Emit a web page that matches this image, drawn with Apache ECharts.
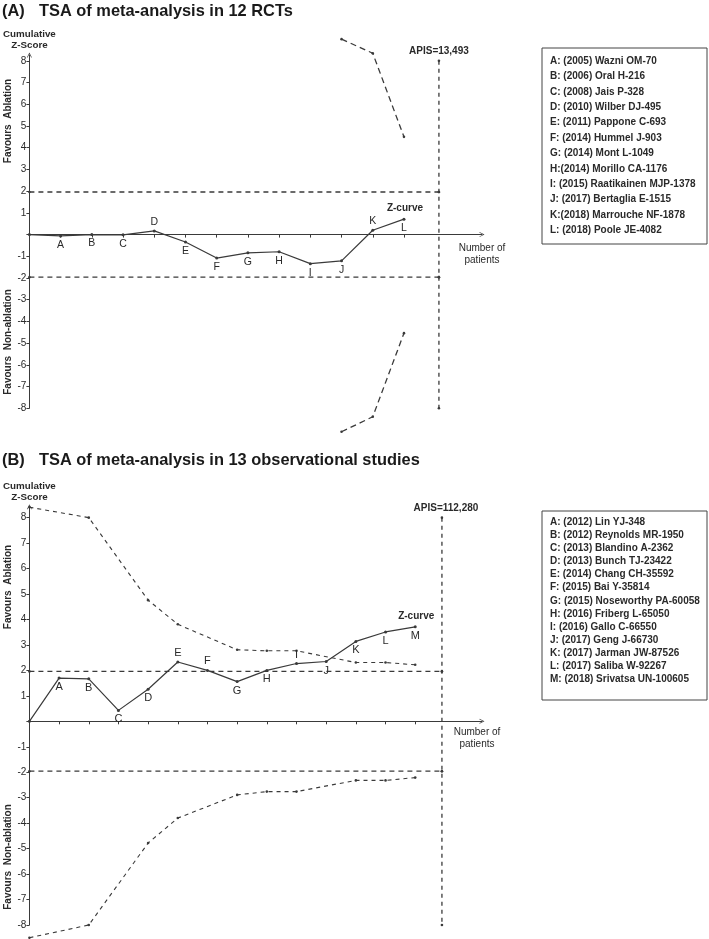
<!DOCTYPE html>
<html>
<head>
<meta charset="utf-8">
<script src="https://cdn.jsdelivr.net/npm/echarts@6/dist/echarts.min.js"></script>
<style>html,body{margin:0;padding:0;background:#fff}#c{width:709px;height:939px}</style>
</head>
<body>
<div id="c"></div>
<script>
// ---------- DATA ----------
// Panel A: 12 RCTs
const lettersA = ['', 'A', 'B', 'C', 'D', 'E', 'F', 'G', 'H', 'I', 'J', 'K', 'L'];
const zCurveA = [0, -0.06, 0, -0.01, 0.17, -0.34, -1.08, -0.84, -0.79, -1.34, -1.21, 0.2, 0.71];
const boundaryXA = [10, 11, 12];
const upperBoundaryA = [9.0, 8.35, 4.5];
const lowerBoundaryA = [-9.08, -8.39, -4.54];
const apisXA = 13.12;
const apisLabelA = 'APIS=13,493';
const legendA = [
  'A: (2005) Wazni OM-70', 'B: (2006) Oral H-216', 'C: (2008) Jais P-328',
  'D: (2010) Wilber DJ-495', 'E: (2011) Pappone C-693', 'F: (2014) Hummel J-903',
  'G: (2014) Mont L-1049', 'H:(2014) Morillo CA-1176', 'I: (2015) Raatikainen MJP-1378',
  'J: (2017) Bertaglia E-1515', 'K:(2018) Marrouche NF-1878', 'L: (2018) Poole JE-4082'
];
// Panel B: 13 observational studies
const lettersB = ['', 'A', 'B', 'C', 'D', 'E', 'F', 'G', 'H', 'I', 'J', 'K', 'L', 'M'];
const zCurveB = [0, 1.70, 1.67, 0.43, 1.26, 2.33, 2.0, 1.56, 2.0, 2.27, 2.35, 3.14, 3.51, 3.71];
const boundaryXB = [0, 2, 4, 5, 7, 8, 9, 11, 12, 13];
const upperBoundaryB = [8.41, 8.0, 4.76, 3.81, 2.81, 2.77, 2.77, 2.31, 2.31, 2.22];
const lowerBoundaryB = [-8.5, -8.0, -4.78, -3.8, -2.89, -2.76, -2.76, -2.32, -2.32, -2.21];
const apisXB = 13.9;
const apisLabelB = 'APIS=112,280';
const legendB = [
  'A: (2012) Lin YJ-348', 'B: (2012) Reynolds MR-1950', 'C: (2013) Blandino A-2362',
  'D: (2013) Bunch TJ-23422', 'E: (2014) Chang CH-35592', 'F: (2015) Bai Y-35814',
  'G: (2015) Noseworthy PA-60058', 'H: (2016) Friberg L-65050', 'I: (2016) Gallo C-66550',
  'J: (2017) Geng J-66730', 'K: (2017) Jarman JW-87526', 'L: (2017) Saliba W-92267',
  'M: (2018) Srivatsa UN-100605'
];
const yTickValues = [-8, -7, -6, -5, -4, -3, -2, -1, 0, 1, 2, 3, 4, 5, 6, 7, 8];
const yLabelValues = [-8, -7, -6, -5, -4, -3, -2, -1, 1, 2, 3, 4, 5, 6, 7, 8];
const boundZ = 1.96;

// label placement (style) for letters
const posA = ['bottom','bottom','bottom','bottom','top','bottom','bottom','bottom','bottom','bottom','bottom','top','bottom'];
const posB = ['bottom','bottom','bottom','bottom','bottom','top','top','bottom','bottom','top','bottom','bottom','bottom','bottom'];

// ---------- CHART ----------
const FONT = '"Liberation Sans", Arial, Helvetica, sans-serif';
const INK = '#2a2a2a';
const LINE = '#3a3a3a';
const chart = echarts.init(document.getElementById('c'), null, {renderer: 'canvas'});
const arrow = 'path://M0,10 L5,0 L10,10 L8.6,10 L5,2.8 L1.4,10 Z';

function makeAxes(gi, xmax, ymax) {
  const x = {
    type: 'value', gridIndex: gi, min: 0, max: xmax,
    splitLine: {show: false},
    axisLine: {onZero: true, lineStyle: {color: LINE, width: 1}, symbol: ['none', arrow], symbolSize: [6, 5]},
    axisTick: {show: true, length: 3, lineStyle: {color: LINE}, customValues: gi === 0 ? [1,2,3,4,5,6,7,8,9,10,11,12] : [1,2,3,4,5,6,7,8,9,10,11,12,13]},
    axisLabel: {show: false}
  };
  const y = {
    type: 'value', gridIndex: gi, min: -8, max: ymax,
    name: 'Cumulative\nZ-Score', nameLocation: 'end', nameGap: 4,
    nameTextStyle: {fontFamily: FONT, fontWeight: 'bold', fontSize: 9.8, color: INK, lineHeight: 11, align: 'center'},
    splitLine: {show: false},
    axisLine: {onZero: true, lineStyle: {color: LINE, width: 1}, symbol: ['none', arrow], symbolSize: [7, 5]},
    axisTick: {show: true, length: 3, lineStyle: {color: LINE}, customValues: yTickValues},
    axisLabel: {show: true, customValues: yLabelValues, fontFamily: FONT, fontSize: 10, color: INK, margin: 3}
  };
  return [x, y];
}
const [xA, yA] = makeAxes(0, 14.5, 8.27);
const [xB, yB] = makeAxes(1, 15.25, 8.43);

function zSeries(gi, vals, letters, pos, fs) {
  return {
    type: 'line', xAxisIndex: gi, yAxisIndex: gi, clip: false, z: 5,
    symbol: 'circle', symbolSize: 3, showSymbol: true,
    lineStyle: {color: LINE, width: 1.2}, itemStyle: {color: LINE},
    data: vals.map((v, i) => ({
      value: [i, v],
      label: {show: letters[i] !== '', formatter: letters[i], position: pos[i], distance: 2,
              fontFamily: FONT, fontSize: fs, color: INK}
    })),
    markPoint: {
      symbol: 'circle', symbolSize: 0,
      data: [{coord: [vals.length - 1, vals[vals.length - 1]]}],
      label: {show: true, formatter: 'Z-curve', position: 'top', distance: 6, offset: [1, 0],
              fontFamily: FONT, fontWeight: 'bold', fontSize: 10, color: INK}
    }
  };
}
function dashSeries(gi, xs, ys, dash, w) {
  return {
    type: 'line', xAxisIndex: gi, yAxisIndex: gi, clip: false,
    symbol: 'circle', symbolSize: 2.6,
    lineStyle: {color: LINE, width: w, type: dash}, itemStyle: {color: LINE},
    data: xs.map((x, i) => [x, ys[i]])
  };
}
function apisSeries(gi, ax, label, dx) {
  return {
    type: 'line', xAxisIndex: gi, yAxisIndex: gi, clip: false,
    symbol: 'circle', symbolSize: 2.6,
    lineStyle: {color: LINE, width: 1.3, type: [4, 4]}, itemStyle: {color: LINE},
    data: [
      {value: [ax, 8], label: {show: true, formatter: label, position: 'top', distance: 3, offset: [dx, 0],
        fontFamily: FONT, fontWeight: 'bold', fontSize: 10, color: INK}},
      [ax, boundZ], [ax, -boundZ], [ax, -8]
    ]
  };
}

const series = [
  dashSeries(0, [0, apisXA], [boundZ, boundZ], [5, 4], 1.3),
  dashSeries(0, [0, apisXA], [-boundZ, -boundZ], [5, 4], 1.3),
  apisSeries(0, apisXA, apisLabelA, 0),
  dashSeries(0, boundaryXA, upperBoundaryA, [6, 4], 1.3),
  dashSeries(0, boundaryXA, lowerBoundaryA, [6, 4], 1.3),
  zSeries(0, zCurveA, lettersA, posA, 10.5),
  dashSeries(1, [0, apisXB], [boundZ, boundZ], [5, 4], 1.2),
  dashSeries(1, [0, apisXB], [-boundZ, -boundZ], [5, 4], 1.2),
  apisSeries(1, apisXB, apisLabelB, 4),
  dashSeries(1, boundaryXB, upperBoundaryB, [4, 4], 1.1),
  dashSeries(1, boundaryXB, lowerBoundaryB, [4, 4], 1.1),
  zSeries(1, zCurveB, lettersB, posB, 11)
];

function legendBox(x, y, w, h, lines, y0, step) {
  const children = [{type: 'rect', shape: {x: x, y: y, width: w, height: h},
    style: {fill: '#fff', stroke: '#444', lineWidth: 1}}];
  lines.forEach((t, i) => children.push({
    type: 'text', x: x + 8, y: y0 + i * step,
    style: {text: t, font: 'bold 10px ' + FONT, fill: INK, textVerticalAlign: 'middle'}
  }));
  return {type: 'group', children: children};
}
function vtext(x, y, t) {
  return {type: 'text', x: x, y: y, rotation: Math.PI / 2,
    style: {text: t, font: 'bold 10px ' + FONT, fill: INK, textAlign: 'center', textVerticalAlign: 'middle'}};
}
function ptext(x, y, t) {
  return {type: 'text', x: x, y: y,
    style: {text: t, font: '10px ' + FONT, fill: INK, textAlign: 'center', textVerticalAlign: 'middle', lineHeight: 12}};
}

const titleStyle = {fontFamily: FONT, fontWeight: 'bold', fontSize: 16.4, color: '#1a1a1a'};
chart.setOption({
  animation: false,
  backgroundColor: '#fff',
  title: [
    {text: '(A)', left: 2, top: 3, padding: 0, textStyle: titleStyle},
    {text: 'TSA of meta-analysis in 12 RCTs', left: 39, top: 3, padding: 0, textStyle: titleStyle},
    {text: '(B)', left: 2, top: 452, padding: 0, textStyle: titleStyle},
    {text: 'TSA of meta-analysis in 13 observational studies', left: 39, top: 452, padding: 0, textStyle: titleStyle}
  ],
  grid: [
    {left: 29, top: 55, width: 453, height: 353.3},
    {left: 29, top: 506.7, width: 453, height: 418.3}
  ],
  xAxis: [xA, xB],
  yAxis: [yA, yB],
  series: series,
  graphic: [
    legendBox(542, 48, 165, 196, legendA, 61, 15.4),
    legendBox(542, 511, 165, 189, legendB, 522, 13.13),
    vtext(8, 121, 'Favours  Ablation'),
    vtext(8, 342, 'Favours  Non-ablation'),
    vtext(8, 587, 'Favours  Ablation'),
    vtext(8, 857, 'Favours  Non-ablation'),
    ptext(482, 254, 'Number of\npatients'),
    ptext(477, 738, 'Number of\npatients')
  ]
});
</script>
</body>
</html>
